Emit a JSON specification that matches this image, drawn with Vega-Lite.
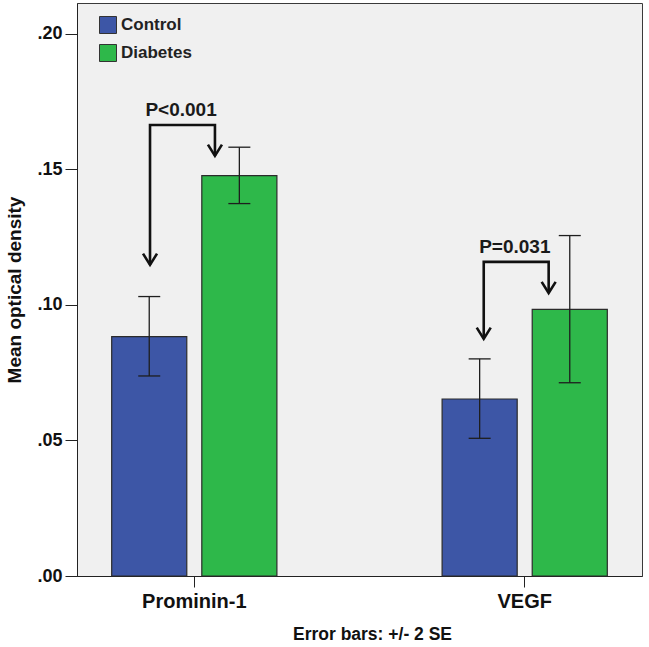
{
  "$schema": "https://vega.github.io/schema/vega-lite/v6.json",
  "width": 565,
  "height": 573,
  "autosize": {"type": "none"},
  "padding": {"left": 77, "top": 3, "right": 7, "bottom": 71},
  "background": "white",
  "config": {
    "view": {"fill": "#F0F0F0", "stroke": "#3a3a3a", "strokeWidth": 1},
    "font": "Liberation Sans"
  },
  "datasets": {
    "bars": [
      {"Marker": "Prominin-1", "Group": "Control", "Mean": 0.0883, "Lo": 0.0738, "Hi": 0.1031},
      {"Marker": "Prominin-1", "Group": "Diabetes", "Mean": 0.1477, "Lo": 0.1374, "Hi": 0.1582},
      {"Marker": "VEGF", "Group": "Control", "Mean": 0.0653, "Lo": 0.0508, "Hi": 0.0801},
      {"Marker": "VEGF", "Group": "Diabetes", "Mean": 0.0984, "Lo": 0.0713, "Hi": 0.1256}
    ],
    "brackets": [
      {"Marker": "Prominin-1", "Step": 1, "Pos": 0.232, "Value": 0.1148},
      {"Marker": "Prominin-1", "Step": 2, "Pos": 0.232, "Value": 0.1664},
      {"Marker": "Prominin-1", "Step": 3, "Pos": 0.625, "Value": 0.1664},
      {"Marker": "Prominin-1", "Step": 4, "Pos": 0.625, "Value": 0.1550},
      {"Marker": "VEGF", "Step": 1, "Pos": 0.252, "Value": 0.0875},
      {"Marker": "VEGF", "Step": 2, "Pos": 0.252, "Value": 0.1159},
      {"Marker": "VEGF", "Step": 3, "Pos": 0.645, "Value": 0.1159},
      {"Marker": "VEGF", "Step": 4, "Pos": 0.645, "Value": 0.1044}
    ],
    "labels": [
      {"Marker": "Prominin-1", "Pos": 0.42, "Value": 0.1697, "Label": "P<0.001"},
      {"Marker": "VEGF", "Pos": 0.44, "Value": 0.1192, "Label": "P=0.031"}
    ]
  },
  "layer": [
    {
      "data": {"name": "bars"},
      "layer": [
        {
          "mark": {"type": "bar", "stroke": "#2b2b2b", "strokeWidth": 1.2},
          "encoding": {
            "x": {
              "field": "Marker", "type": "nominal", "sort": ["Prominin-1", "VEGF"],
              "title": "Error bars: +/- 2 SE",
              "scale": {"paddingInner": 0.5, "paddingOuter": 0.105},
              "axis": {
                "titleFontSize": 17.5, "titleFontWeight": "bold",
                "titleColor": "#111", "titlePadding": 14, "titleX": 295,
                "labelFontSize": 20, "labelFontWeight": "bold", "labelColor": "#111", "labelAngle": 0,
                "labelPadding": 4, "tickSize": 11, "tickColor": "#222", "domainColor": "#222"
              }
            },
            "xOffset": {
              "field": "Group", "type": "nominal", "sort": ["Control", "Diabetes"],
              "scale": {"paddingInner": 0.1667, "paddingOuter": 0}
            },
            "y": {
              "field": "Mean", "type": "quantitative",
              "title": "Mean optical density",
              "scale": {"domain": [0, 0.2114], "nice": false, "zero": true},
              "axis": {
                "values": [0, 0.05, 0.1, 0.15, 0.2],
                "labelExpr": "substring(format(datum.value, '.2f'), 1)",
                "titleFontSize": 19, "titleFontWeight": "bold",
                "titleColor": "#111", "titlePadding": 12,
                "labelFontSize": 18, "labelFontWeight": "bold", "labelColor": "#111",
                "labelPadding": 3, "tickSize": 12, "tickColor": "#222", "domainColor": "#222", "grid": false
              }
            },
            "color": {
              "field": "Group", "type": "nominal",
              "scale": {"domain": ["Control", "Diabetes"], "range": ["#3D56A6", "#2EB84A"]},
              "legend": {
                "title": null, "orient": "none", "legendX": 22, "legendY": 13,
                "symbolType": "square", "symbolSize": 289, "symbolStrokeColor": "#333",
                "symbolStrokeWidth": 1, "symbolOpacity": 1,
                "labelFontSize": 17, "labelFontWeight": "bold", "labelColor": "#222",
                "labelOffset": 4, "rowPadding": 6
              }
            }
          }
        },
        {
          "mark": {"type": "rule", "color": "#1e1e1e", "strokeWidth": 1.3},
          "encoding": {
            "x": {"field": "Marker", "type": "nominal", "sort": ["Prominin-1", "VEGF"], "title": "Error bars: +/- 2 SE"},
            "xOffset": {"field": "Group", "type": "nominal", "sort": ["Control", "Diabetes"]},
            "y": {"field": "Lo", "type": "quantitative", "title": "Mean optical density"},
            "y2": {"field": "Hi"}
          }
        },
        {
          "mark": {"type": "tick", "size": 22, "thickness": 1.3, "color": "#1e1e1e", "orient": "horizontal", "opacity": 1},
          "encoding": {
            "x": {"field": "Marker", "type": "nominal", "sort": ["Prominin-1", "VEGF"], "title": "Error bars: +/- 2 SE"},
            "xOffset": {"field": "Group", "type": "nominal", "sort": ["Control", "Diabetes"]},
            "y": {"field": "Lo", "type": "quantitative", "title": "Mean optical density"}
          }
        },
        {
          "mark": {"type": "tick", "size": 22, "thickness": 1.3, "color": "#1e1e1e", "orient": "horizontal", "opacity": 1},
          "encoding": {
            "x": {"field": "Marker", "type": "nominal", "sort": ["Prominin-1", "VEGF"], "title": "Error bars: +/- 2 SE"},
            "xOffset": {"field": "Group", "type": "nominal", "sort": ["Control", "Diabetes"]},
            "y": {"field": "Hi", "type": "quantitative", "title": "Mean optical density"}
          }
        }
      ]
    },
    {
      "layer": [
        {
          "data": {"name": "brackets"},
          "mark": {"type": "line", "color": "#111", "strokeWidth": 2.6, "strokeJoin": "miter"},
          "encoding": {
            "x": {"field": "Marker", "type": "nominal", "sort": ["Prominin-1", "VEGF"], "title": "Error bars: +/- 2 SE"},
            "xOffset": {"field": "Pos", "type": "quantitative", "scale": {"domain": [0, 1]}},
            "y": {"field": "Value", "type": "quantitative", "title": "Mean optical density"},
            "order": {"field": "Step", "type": "quantitative"},
            "detail": {"field": "Marker", "type": "nominal"}
          }
        },
        {
          "data": {"name": "brackets"},
          "transform": [{"filter": "datum.Step == 1 || datum.Step == 4"}],
          "mark": {"type": "point", "shape": "M-1,-1.6L0,0L1,-1.6", "size": 196, "filled": false, "stroke": "#111", "strokeWidth": 2.6, "opacity": 1},
          "encoding": {
            "x": {"field": "Marker", "type": "nominal", "sort": ["Prominin-1", "VEGF"], "title": "Error bars: +/- 2 SE"},
            "xOffset": {"field": "Pos", "type": "quantitative", "scale": {"domain": [0, 1]}},
            "y": {"field": "Value", "type": "quantitative", "title": "Mean optical density"}
          }
        },
        {
          "data": {"name": "labels"},
          "mark": {"type": "text", "fontSize": 19, "fontWeight": "bold", "baseline": "alphabetic", "align": "center", "color": "#1a1a1a"},
          "encoding": {
            "x": {"field": "Marker", "type": "nominal", "sort": ["Prominin-1", "VEGF"], "title": "Error bars: +/- 2 SE"},
            "xOffset": {"field": "Pos", "type": "quantitative", "scale": {"domain": [0, 1]}},
            "y": {"field": "Value", "type": "quantitative", "title": "Mean optical density"},
            "text": {"field": "Label", "type": "nominal"}
          }
        }
      ]
    }
  ],
  "resolve": {"scale": {"xOffset": "independent"}}
}
